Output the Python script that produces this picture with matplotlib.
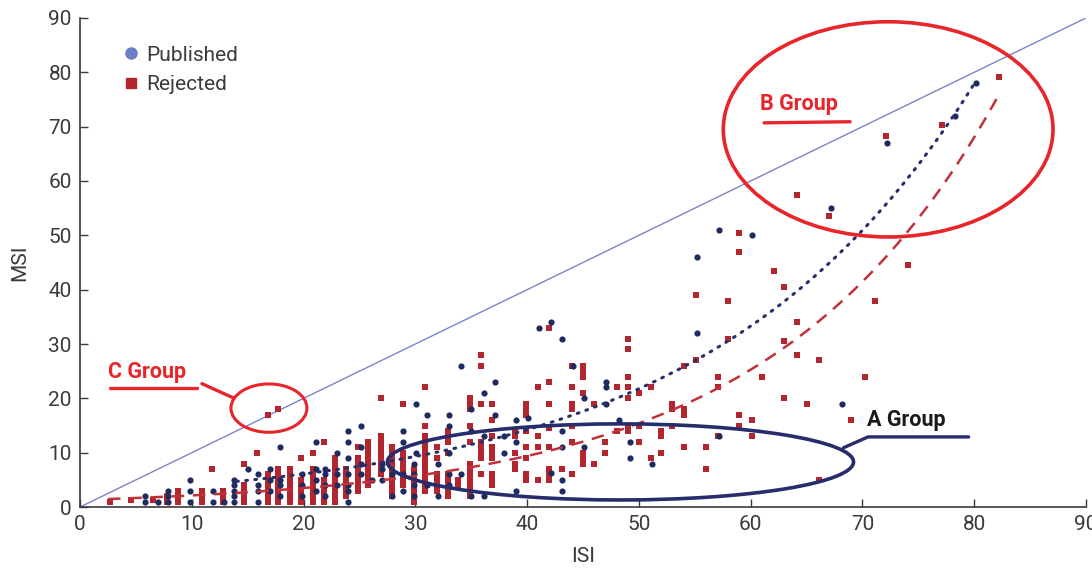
import numpy as np
import matplotlib
matplotlib.use("Agg")
import matplotlib.pyplot as plt
from matplotlib.patches import Ellipse
from matplotlib.lines import Line2D

plt.rcParams['font.family'] = ['Roboto', 'DejaVu Sans']

# published manuscripts: (ISI, [MSI values at that ISI])
published_cols = [
    (5.8, [1, 2]), (7.0, [1]), (7.9, [1, 2, 3]), (9.8, [1, 3, 5]), (11.9, [1, 3]),
    (12.9, [1]), (13.8, [1, 2, 3, 4, 5]), (15.0, [7]), (15.9, [1, 3, 4, 6]),
    (17.0, [3, 5, 7]), (17.9, [2, 4, 5, 11]), (19.9, [2, 4, 6]), (21.1, [3, 5, 7, 12]),
    (21.9, [2, 4, 6, 7]), (23.0, [4, 6, 10]), (24.0, [1, 3, 4, 6, 9, 12, 14]),
    (25.1, [6, 8, 11, 15]), (26.1, [5]), (27.0, [5, 7, 8]), (27.9, [2, 6]),
    (28.9, [3, 6, 12, 14]), (29.9, [2, 4, 6, 8]), (30.1, [10, 19]), (31.0, [4, 17]),
    (32.0, [2, 8]), (33.0, [4, 6, 10, 15, 17]), (34.1, [6, 26]), (35.0, [2, 14, 18]),
    (36.1, [2, 13, 21]), (37.1, [17, 23]), (37.9, [10, 13]), (39.0, [3, 12, 16]),
    (40.1, [16.4]), (41.1, [33]), (42.1, [6.3, 34]), (43.1, [3, 5, 11, 14, 31]),
    (44.1, [26]), (45.1, [11, 20]), (47.1, [19, 22, 23]), (48.2, [16]), (49.2, [9, 12]),
    (51.2, [8]), (55.2, [32, 46]), (57.2, [13, 51]), (60.1, [50]), (67.2, [55]),
    (68.2, [19]), (72.2, [67]), (78.3, [72]), (80.2, [78]),
]

# rejected manuscripts: (ISI, [MSI values at that ISI])
rejected_cols = [
    (2.7, [1]), (4.6, [1.3]), (6.5, [1.3]), (7.8, [1, 2]), (8.8, [1, 2, 3]),
    (10.9, [1, 2, 3]), (11.8, [7]), (12.8, [1, 2, 3]), (14.7, [1, 2, 3, 4, 8]),
    (15.8, [10]), (16.8, [1, 2, 3, 4, 5, 6, 17]), (17.7, [1, 2, 3, 4, 5, 6, 7, 18]),
    (18.8, [1, 2, 3, 4, 5, 6, 7]), (19.8, [1, 2, 3, 4, 5, 9]),
    (20.8, [1, 2, 3, 4, 5, 6, 7, 10]), (21.8, [1, 2, 3, 4, 5, 12]),
    (22.8, [1, 2, 3, 4, 5, 6, 7, 8, 9]), (23.8, [2, 3, 4, 5, 6, 7]),
    (24.9, [3, 4, 5, 6, 7, 8, 9, 11]), (25.8, [4, 5, 6, 7, 8, 9, 10, 11, 12]),
    (26.9, [6, 7, 8, 9, 10, 11, 12, 13, 20]), (27.9, [2, 3, 4, 5, 6, 7, 8, 9, 10, 11]),
    (28.9, [4, 5, 6, 7, 8, 9, 10, 19]), (29.9, [1, 2, 3, 4, 5, 6, 7]),
    (30.9, [3, 4, 5, 6, 7, 8, 9, 10, 11, 12, 13, 15, 22]), (31.9, [3, 4, 5, 6, 9, 11]),
    (32.9, [2, 3, 4, 5, 6, 10, 12, 13, 14]), (33.8, [4, 5]),
    (34.9, [2, 3, 4, 5, 6, 7, 8, 12, 15, 18, 19, 20]),
    (35.9, [6, 9, 10, 11, 12, 19, 26, 28]), (36.9, [4, 5, 6, 9, 10, 11, 13, 16, 19]),
    (38.9, [7, 8, 10, 13, 14]), (39.9, [5, 6, 9, 11, 14, 17, 18, 19]),
    (41.0, [5, 11, 13, 22]), (42.0, [5, 6, 7, 11, 14.5, 19, 23, 33]), (43.1, [7]),
    (44.0, [6, 12, 15, 18, 19, 22, 26]), (45.0, [8, 9, 10, 21, 24, 25, 26]),
    (46.0, [8, 19]), (47.0, [10, 12]), (48.0, [14, 22]),
    (49.0, [14, 15, 20, 22, 24, 29, 31]), (50.0, [12, 15, 21]), (51.1, [9, 22]),
    (52.0, [10, 13, 14]), (53.0, [15, 18, 19]), (54.0, [11, 17, 18, 26]),
    (55.1, [27, 39]), (56.0, [7, 11]), (57.1, [13, 22, 24]), (58.0, [31, 38]),
    (59.0, [15, 17, 47, 50.5]), (60.1, [13, 16]), (61.0, [24]), (62.1, [43.5]),
    (63.0, [20, 30.6, 40.5]), (64.1, [28, 34, 57.5]), (65.0, [19]), (66.1, [5, 27]),
    (67.0, [53.5]), (69.0, [16]), (70.2, [24]), (71.1, [38]), (72.1, [68.3]),
    (74.1, [44.6]), (77.1, [70.3]), (82.2, [79.2]),
]

# exponential trend lines y = a * exp(b * x)
pub_trend = (2.6, 0.0425, 14, 80.2)
rej_trend = (1.297, 0.0495, 2.5, 82.2)

pub_x = [x for x, ys in published_cols for _ in ys]
pub_y = [y for _, ys in published_cols for y in ys]
rej_x = [x for x, ys in rejected_cols for _ in ys]
rej_y = [y for _, ys in rejected_cols for y in ys]

navy = '#1f2a5e'
red = '#b3262d'
bright_red = '#e8252b'
grey = '#3a3a3a'

fig = plt.figure(figsize=(10.92, 5.72), dpi=100)
ax = fig.add_axes([0.0733, 0.1136, 0.9212, 0.855])

# line of equality
ax.plot([0, 90], [0, 90], color='#7c84c8', lw=1.0, zorder=1)

ax.scatter(rej_x, rej_y, marker='s', s=22, color=red, linewidths=0, zorder=3)
ax.scatter(pub_x, pub_y, marker='o', s=20, color=navy, linewidths=0, zorder=4)

a, b, x0, x1 = rej_trend
xx = np.linspace(x0, x1, 200)
ax.plot(xx, a * np.exp(b * xx), color='#c0323a', lw=1.8, ls=(0, (5, 3.5)), zorder=5)
a, b, x0, x1 = pub_trend
xx = np.linspace(x0, x1, 200)
ax.plot(xx, a * np.exp(b * xx), color='#26306b', lw=2.2, ls=(0, (0.6, 2.4)),
        dash_capstyle='round', zorder=5)

# group ellipses
ax.add_patch(Ellipse((72.3, 69.5), 29.5, 39.6, fill=False, ec=bright_red, lw=2.6, zorder=6))
ax.add_patch(Ellipse((16.9, 18.2), 6.8, 8.9, fill=False, ec=bright_red, lw=2.2, zorder=6))
ax.add_patch(Ellipse((48.35, 8.3), 41.7, 14.0, fill=False, ec='#262c6c', lw=2.6, zorder=6))

bold = dict(fontsize=15.5, fontweight='bold', ha='center', va='center', zorder=7)
ax.text(64.3, 74.2, 'B Group', color=bright_red, **bold)
ax.plot([61.2, 68.9], [70.7, 70.9], color=bright_red, lw=2.4, solid_capstyle='round', zorder=7)

ax.text(6.0, 24.9, 'C Group', color=bright_red, **bold)
ax.plot([2.7, 10.5], [21.9, 21.9], color=bright_red, lw=2.4, solid_capstyle='round', zorder=7)
ax.plot([10.9, 13.7], [22.7, 20.1], color=bright_red, lw=2.4, solid_capstyle='round', zorder=7)

ax.text(73.9, 16.0, 'A Group', color='#1a1a1a', **bold)
ax.plot([68.3, 70.5, 79.5], [10.9, 12.9, 12.9], color='#262c6c', lw=2.4,
        solid_capstyle='round', zorder=7)

ax.set_xlim(0, 90)
ax.set_ylim(0, 90)
ax.set_xticks(range(0, 91, 10))
ax.set_yticks(range(0, 91, 10))
ax.tick_params(direction='in', length=6, width=1, colors=grey, labelsize=15, pad=6)
for side in ('top', 'right'):
    ax.spines[side].set_visible(False)
for side in ('left', 'bottom'):
    ax.spines[side].set_color(grey)
    ax.spines[side].set_linewidth(1.2)
ax.set_xlabel('ISI', fontsize=15, color=grey, labelpad=9)
ax.set_ylabel('MSI', fontsize=15, color=grey, labelpad=14)

handles = [
    Line2D([], [], marker='o', ls='', color='#6a7fc4', markersize=8),
    Line2D([], [], marker='s', ls='', color=red, markersize=7.5),
]
leg = ax.legend(handles, ['Published', 'Rejected'], loc='upper left',
                bbox_to_anchor=(0.02, 0.982), frameon=False, fontsize=15,
                handletextpad=0.1, labelspacing=0.5, handlelength=1.2)
for t in leg.get_texts():
    t.set_color(grey)

fig.savefig('out.png', dpi=100)
